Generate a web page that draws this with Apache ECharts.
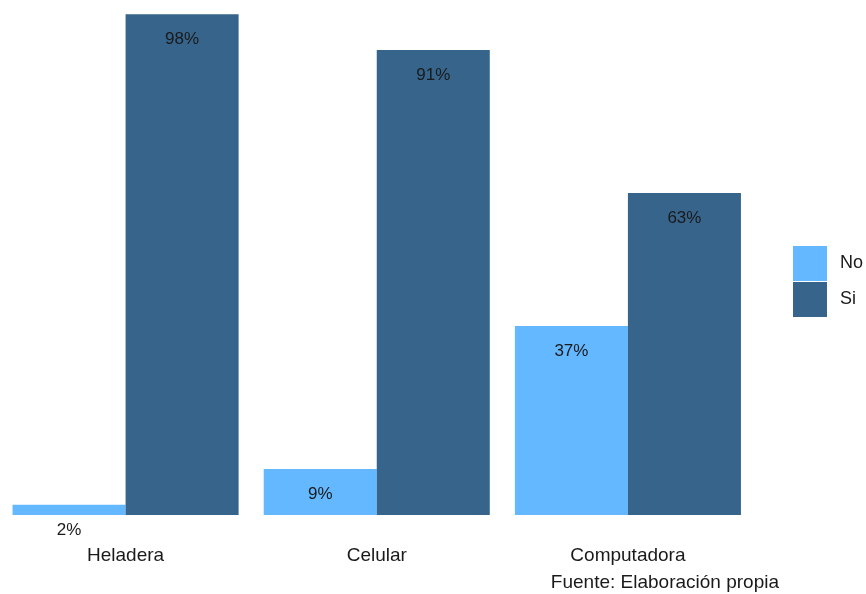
<!DOCTYPE html>
<html>
<head>
<meta charset="utf-8">
<script src="https://cdn.jsdelivr.net/npm/echarts@6/dist/echarts.min.js"></script>
<style>
  html, body { margin: 0; padding: 0; background: #ffffff; }
  #chart { width: 866px; height: 594px; }
</style>
</head>
<body>
<div id="chart"></div>
<script>
// Tenencia de bienes en el hogar (porcentaje)
const categories = ['Heladera', 'Celular', 'Computadora'];
const seriesNames = ['No', 'Si'];
const valuesNo = [2, 9, 37];
const valuesSi = [98, 91, 63];
const caption = 'Fuente: Elaboración propia';

const FONT = '"Liberation Sans", Arial, sans-serif';
const colors = { No: '#63B8FF', Si: '#36648B' };

const chart = echarts.init(document.getElementById('chart'), null, { renderer: 'canvas' });

function barSeries(name, data) {
  return {
    name: name,
    type: 'bar',
    data: data,
    barWidth: '45%',
    barGap: '0%',
    itemStyle: { color: colors[name] },
    label: {
      show: true,
      position: 'insideTop',
      distance: 17,
      formatter: p => p.value + '%',
      color: '#1a1a1a',
      fontFamily: FONT,
      fontSize: 17
    }
  };
}

chart.setOption({
  animation: false,
  backgroundColor: '#ffffff',
  grid: { left: -2.5, top: 4, width: 756, bottom: 79, containLabel: false },
  legend: {
    orient: 'vertical',
    left: 793,
    top: 246,
    padding: 0,
    itemWidth: 34,
    itemHeight: 35,
    itemGap: 1,
    icon: 'rect',
    data: seriesNames,
    textStyle: { fontFamily: FONT, fontSize: 18, color: '#1a1a1a', padding: [0, 0, 0, 8] }
  },
  xAxis: {
    type: 'category',
    data: categories,
    axisLine: { show: false },
    axisTick: { show: false },
    axisLabel: { margin: 31, fontFamily: FONT, fontSize: 19, color: '#1a1a1a' }
  },
  yAxis: {
    type: 'value',
    min: 0,
    max: 100,
    show: false,
    splitLine: { show: false }
  },
  graphic: [{
    type: 'text',
    x: 779,
    y: 583,
    style: {
      text: caption,
      textAlign: 'right',
      textVerticalAlign: 'middle',
      fontFamily: FONT,
      fontSize: 19,
      fill: '#1a1a1a'
    }
  }],
  series: [barSeries('No', valuesNo), barSeries('Si', valuesSi)]
});
</script>
</body>
</html>
